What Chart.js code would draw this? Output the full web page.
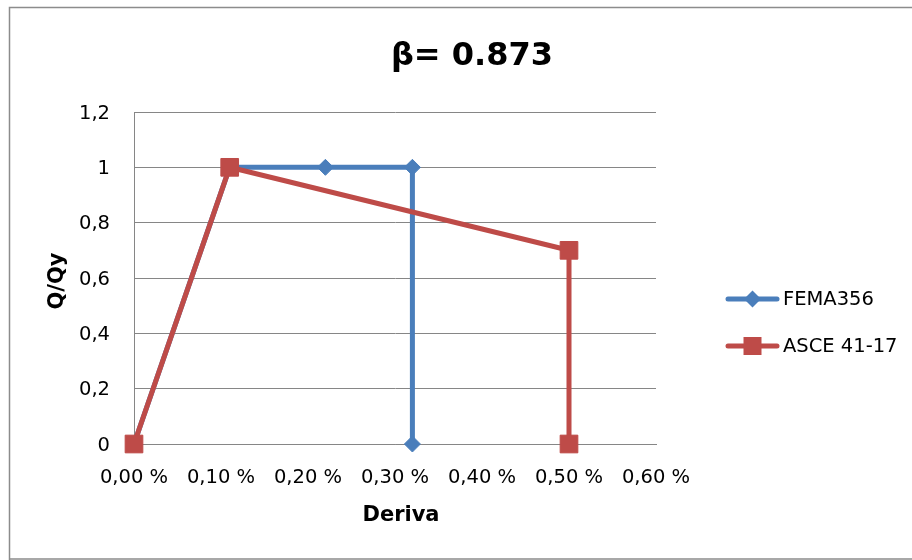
<!DOCTYPE html>
<html>
<head>
<meta charset="utf-8">
<script src="https://cdn.jsdelivr.net/npm/chart.js@4/dist/chart.umd.min.js"></script>
<style>
  html, body { margin: 0; padding: 0; background: #fff; }
  #wrap { width: 912px; height: 560px; position: relative; }
</style>
</head>
<body>
<div id="wrap"><canvas id="c" width="912" height="560"></canvas></div>
<script>
// ---- data ----
const chartTitle = 'β= 0.873';
const xAxisTitle = 'Deriva';
const yAxisTitle = 'Q/Qy';
const seriesNames = ['FEMA356', 'ASCE 41-17'];
const femaDeriva = [0, 0.11, 0.22, 0.32, 0.32];
const femaQ      = [0, 1, 1, 1, 0];
const asceDeriva = [0, 0.11, 0.5, 0.5];
const asceQ      = [0, 1, 0.7, 0];
const xTickLabels = ['0,00 %', '0,10 %', '0,20 %', '0,30 %', '0,40 %', '0,50 %', '0,60 %'];
const yTickLabels = ['0', '0,2', '0,4', '0,6', '0,8', '1', '1,2'];

const BLUE = '#4A7EBB';
const RED = '#BE4B48';
const GRID = '#868686';
const FONT = "'DejaVu Sans', sans-serif";

function toPoints(xs, ys) { return xs.map((x, i) => ({ x: x, y: ys[i] })); }

const decor = {
  id: 'decor',
  afterDraw(chart) {
    const ctx = chart.ctx;
    ctx.save();
    // outer frame
    ctx.strokeStyle = '#8c8c8c';
    ctx.lineWidth = 1.5;
    ctx.beginPath();
    ctx.moveTo(9.5, 570); ctx.lineTo(9.5, 7.5); ctx.lineTo(920, 7.5);
    ctx.moveTo(9.5, 559); ctx.lineTo(920, 559);
    ctx.stroke();

    ctx.fillStyle = '#000';
    // title
    ctx.font = "bold 32px " + FONT;
    ctx.textAlign = 'center';
    ctx.textBaseline = 'alphabetic';
    ctx.fillText(chartTitle, 472, 65);
    // x axis title
    ctx.font = "bold 21px " + FONT;
    ctx.fillText(xAxisTitle, 401, 521);
    // y axis title
    ctx.save();
    ctx.translate(63, 281);
    ctx.rotate(-Math.PI / 2);
    ctx.fillText(yAxisTitle, 0, 0);
    ctx.restore();

    // legend
    const items = [
      { name: seriesNames[0], color: BLUE, shape: 'diamond', y: 299 },
      { name: seriesNames[1], color: RED, shape: 'square', y: 346 }
    ];
    items.forEach(it => {
      ctx.strokeStyle = it.color;
      ctx.lineWidth = 5;
      ctx.lineCap = 'round';
      ctx.beginPath();
      ctx.moveTo(728, it.y); ctx.lineTo(777, it.y);
      ctx.stroke();
      ctx.fillStyle = it.color;
      ctx.beginPath();
      const cx = 752.5;
      if (it.shape === 'diamond') {
        const r = 8.5;
        ctx.moveTo(cx - r, it.y); ctx.lineTo(cx, it.y - r);
        ctx.lineTo(cx + r, it.y); ctx.lineTo(cx, it.y + r);
        ctx.closePath();
      } else {
        const s = 9;
        ctx.rect(cx - s, it.y - s, 2 * s, 2 * s);
      }
      ctx.fill();
      ctx.fillStyle = '#000';
      ctx.font = "19.5px " + FONT;
      ctx.textAlign = 'left';
      ctx.textBaseline = 'middle';
      ctx.fillText(it.name, 783, it.y + 1);
    });
    ctx.restore();
  }
};

new Chart(document.getElementById('c'), {
  type: 'scatter',
  data: {
    datasets: [
      {
        label: seriesNames[0],
        data: toPoints(femaDeriva, femaQ),
        showLine: true,
        clip: false,
        borderColor: BLUE,
        backgroundColor: BLUE,
        borderWidth: 5,
        pointStyle: 'rectRot',
        pointRadius: 8,
        pointBorderWidth: 1,
        pointBackgroundColor: BLUE,
        pointBorderColor: BLUE,
        order: 1
      },
      {
        label: seriesNames[1],
        data: toPoints(asceDeriva, asceQ),
        showLine: true,
        clip: false,
        borderColor: RED,
        backgroundColor: RED,
        borderWidth: 5,
        pointStyle: 'rect',
        pointRadius: 12.5,
        pointBorderWidth: 1,
        pointBackgroundColor: RED,
        pointBorderColor: RED,
        order: 0
      }
    ]
  },
  options: {
    responsive: false,
    animation: false,
    events: [],
    layout: { padding: { top: 112, right: 256, bottom: 0, left: 0 } },
    plugins: {
      legend: { display: false },
      title: { display: false },
      tooltip: { enabled: false }
    },
    scales: {
      x: {
        type: 'linear',
        min: 0, max: 0.6,
        afterFit(s) { s.height = 116; },
        grid: { display: false, drawTicks: false },
        border: { display: true, color: GRID, width: 1 },
        ticks: {
          stepSize: 0.1,
          padding: 22,
          color: '#000',
          font: { family: FONT, size: 19.5 },
          maxRotation: 0,
          callback: (v, i) => xTickLabels[i]
        }
      },
      y: {
        type: 'linear',
        min: 0, max: 1.2,
        afterFit(s) { s.width = 134; },
        grid: { display: true, color: GRID, lineWidth: 1, drawTicks: false },
        border: { display: true, color: GRID, width: 1 },
        ticks: {
          stepSize: 0.2,
          padding: 24,
          labelOffset: 1.5,
          color: '#000',
          font: { family: FONT, size: 19.5 },
          callback: (v, i) => yTickLabels[i]
        }
      }
    }
  },
  plugins: [decor]
});
</script>
</body>
</html>
